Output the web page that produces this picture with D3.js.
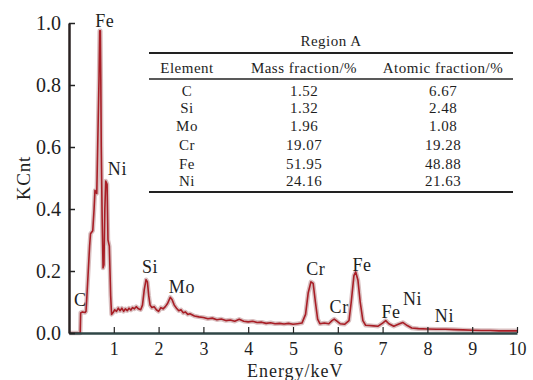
<!DOCTYPE html>
<html>
<head>
<meta charset="utf-8">
<script src="https://cdn.jsdelivr.net/npm/d3@7"></script>
<style>
  body { margin: 0; background: #fff; }
  svg text { font-family: "Liberation Serif", "DejaVu Serif", serif; fill: #1e1e1e; }
</style>
</head>
<body>
<div id="chart"></div>
<script>
const width = 533;
const height = 380;

// spectrum
const energy = [0, 0.2, 0.25, 0.26, 0.3, 0.36, 0.38, 0.4, 0.43, 0.46, 0.48, 0.53, 0.56, 0.58, 0.62, 0.64, 0.67, 0.685, 0.7, 0.71, 0.72, 0.74, 0.76, 0.78, 0.8, 0.82, 0.85, 0.87, 0.9, 0.93, 0.95, 0.98,
  1.02, 1.06, 1.1, 1.14, 1.18, 1.22, 1.26, 1.3, 1.34, 1.38, 1.42, 1.46, 1.5, 1.55, 1.6, 1.64, 1.68, 1.72, 1.75, 1.78, 1.81, 1.85, 1.9, 1.95,
  2.0, 2.05, 2.1, 2.15, 2.2, 2.26, 2.3, 2.35, 2.4, 2.45, 2.5, 2.55, 2.6, 2.65, 2.7, 2.8, 2.9,
  3.0, 3.1, 3.2, 3.3, 3.4, 3.5, 3.6, 3.7, 3.8, 3.9, 4.0, 4.1, 4.2, 4.3, 4.4, 4.5, 4.6, 4.7, 4.8, 4.9,
  5.0, 5.1, 5.2, 5.28, 5.34, 5.4, 5.45, 5.5, 5.55, 5.6, 5.7, 5.8, 5.87, 5.92, 5.98, 6.05, 6.15, 6.25, 6.3, 6.36, 6.4, 6.45, 6.5, 6.56, 6.62, 6.7, 6.8, 6.9,
  7.0, 7.07, 7.14, 7.25, 7.35, 7.45, 7.55, 7.65, 7.8, 8.0, 8.2, 8.4, 8.6, 8.8, 9.0, 9.2, 9.4, 9.6, 9.8, 10.0];
const kcnt = [0, 0, 0, 0.065, 0.068, 0.066, 0.07, 0.12, 0.2, 0.28, 0.32, 0.33, 0.4, 0.46, 0.45, 0.6, 0.82, 0.975, 0.975, 0.82, 0.6, 0.37, 0.21, 0.22, 0.4, 0.49, 0.48, 0.3, 0.28, 0.12, 0.06, 0.065,
  0.075, 0.07, 0.08, 0.072, 0.08, 0.07, 0.078, 0.072, 0.08, 0.074, 0.082, 0.078, 0.085, 0.078, 0.075, 0.09, 0.14, 0.172, 0.165, 0.12, 0.09, 0.082, 0.085, 0.075,
  0.07, 0.082, 0.078, 0.085, 0.095, 0.115, 0.108, 0.09, 0.08, 0.072, 0.075, 0.065, 0.068, 0.06, 0.062, 0.055, 0.052,
  0.05, 0.046, 0.048, 0.043, 0.045, 0.04, 0.042, 0.038, 0.044, 0.038, 0.036, 0.038, 0.034, 0.035, 0.031, 0.033, 0.03, 0.031, 0.029, 0.031,
  0.028, 0.03, 0.032, 0.06, 0.13, 0.165, 0.16, 0.1, 0.045, 0.03, 0.032, 0.03, 0.04, 0.045, 0.038, 0.03, 0.028, 0.04, 0.1, 0.185, 0.197, 0.17, 0.1, 0.04, 0.025, 0.024, 0.023, 0.022,
  0.032, 0.04, 0.03, 0.022, 0.028, 0.034, 0.024, 0.016, 0.014, 0.013, 0.012, 0.012, 0.011, 0.01, 0.009, 0.008, 0.008, 0.007, 0.007, 0.007];

// peak labels
const peakNames = ["C", "Fe", "Ni", "Si", "Mo", "Cr", "Cr", "Fe", "Fe", "Ni", "Ni"];
const peakEnergy = [0.25, 0.8, 1.08, 1.81, 2.52, 5.51, 6.03, 6.54, 7.19, 7.67, 8.38];
const peakLevel = [0.087, 0.987, 0.51, 0.193, 0.13, 0.187, 0.064, 0.2, 0.048, 0.09, 0.035];

// table
const tableTitle = "Region A";
const tableHeader = ["Element", "Mass fraction/%", "Atomic fraction/%"];
const elements = ["C", "Si", "Mo", "Cr", "Fe", "Ni"];
const massFraction = ["1.52", "1.32", "1.96", "19.07", "51.95", "24.16"];
const atomicFraction = ["6.67", "2.48", "1.08", "19.28", "48.88", "21.63"];

const xTicks = [1, 2, 3, 4, 5, 6, 7, 8, 9, 10];
const yTicks = [0, 0.2, 0.4, 0.6, 0.8, 1.0];

const margin = {left: 69, right: 16, top: 23, bottom: 47};

const svg = d3.select("#chart")
  .append("svg")
  .attr("width", width)
  .attr("height", height);

const x = d3.scaleLinear()
  .domain([0, 10])
  .range([margin.left, width - margin.right]);

const y = d3.scaleLinear()
  .domain([0, 1])
  .range([height - margin.bottom, margin.top]);

const pts = energy.map((e, i) => [e, kcnt[i]]);
const line = d3.line()
  .x(d => x(d[0]))
  .y(d => y(d[1]));

// pale halo then red trace
svg.append("path")
  .datum(pts)
  .attr("d", line)
  .attr("fill", "none")
  .attr("stroke", "#d9bfc0")
  .attr("stroke-width", 4.5)
  .attr("stroke-linejoin", "round");

svg.append("path")
  .datum(pts)
  .attr("d", line)
  .attr("fill", "none")
  .attr("stroke", "#a81e26")
  .attr("stroke-width", 1.6)
  .attr("stroke-linejoin", "round");

// axes, ticks pointing inward
const xAxis = d3.axisBottom(x)
  .tickValues(xTicks)
  .tickFormat(d3.format("d"))
  .tickSizeInner(-6)
  .tickSizeOuter(0)
  .tickPadding(9);

const gx = svg.append("g")
  .attr("transform", `translate(0,${y(0)})`)
  .call(xAxis);
gx.select(".domain").attr("stroke", "#2f4646").attr("stroke-width", 2.5);
gx.selectAll(".tick line").attr("stroke", "#222").attr("stroke-width", 1.2);
gx.selectAll(".tick text")
  .attr("font-size", 18)
  .attr("fill", "#1e1e1e");

const yAxis = d3.axisLeft(y)
  .tickValues(yTicks)
  .tickFormat(d3.format(".1f"))
  .tickSizeInner(-6)
  .tickSizeOuter(0)
  .tickPadding(8);

const gy = svg.append("g")
  .attr("transform", `translate(${margin.left},0)`)
  .call(yAxis);
gy.select(".domain").attr("stroke", "#2a2222").attr("stroke-width", 2.5);
gy.selectAll(".tick line").attr("stroke", "#222").attr("stroke-width", 1.5);
gy.selectAll(".tick text")
  .attr("font-size", 20)
  .attr("fill", "#1e1e1e");

// axis titles
svg.append("text")
  .attr("x", x(5.05))
  .attr("y", 377)
  .attr("text-anchor", "middle")
  .attr("font-size", 18)
  .attr("letter-spacing", 1)
  .text("Energy/keV");

svg.append("text")
  .attr("transform", `translate(30,${y(0.5)}) rotate(-90)`)
  .attr("text-anchor", "middle")
  .attr("font-size", 19)
  .attr("letter-spacing", 0.8)
  .text("KCnt");

// peak labels
svg.selectAll(".peak")
  .data(peakNames)
  .enter()
  .append("text")
  .attr("class", "peak")
  .attr("x", (d, i) => x(peakEnergy[i]))
  .attr("y", (d, i) => y(peakLevel[i]))
  .attr("text-anchor", "middle")
  .attr("font-size", 18)
  .attr("letter-spacing", 0.6)
  .text(d => d);

// inset table
const tbl = svg.append("g");
const colX = [187, 304, 443];
const ruleX = [149, 513];

tbl.append("text")
  .attr("x", 331)
  .attr("y", 46)
  .attr("text-anchor", "middle")
  .attr("font-size", 15)
  .attr("letter-spacing", 0.5)
  .text(tableTitle);

const rules = [[53, 2], [79, 1.6], [192, 2]];
rules.forEach(r => {
  tbl.append("line")
    .attr("x1", ruleX[0]).attr("x2", ruleX[1])
    .attr("y1", r[0]).attr("y2", r[0])
    .attr("stroke", "#222")
    .attr("stroke-width", r[1]);
});

tbl.selectAll(".hdr")
  .data(tableHeader)
  .enter()
  .append("text")
  .attr("class", "hdr")
  .attr("x", (d, i) => colX[i])
  .attr("y", 73)
  .attr("text-anchor", "middle")
  .attr("font-size", 15)
  .attr("letter-spacing", 0.5)
  .text(d => d);

const rowY = [96, 113, 131, 150, 169, 186];
const cols = [elements, massFraction, atomicFraction];
cols.forEach((col, c) => {
  tbl.selectAll(".c" + c)
    .data(col)
    .enter()
    .append("text")
    .attr("class", "c" + c)
    .attr("x", colX[c])
    .attr("y", (d, i) => rowY[i])
    .attr("text-anchor", "middle")
    .attr("font-size", 15)
    .attr("letter-spacing", 0.5)
    .text(d => d);
});
</script>
</body>
</html>
